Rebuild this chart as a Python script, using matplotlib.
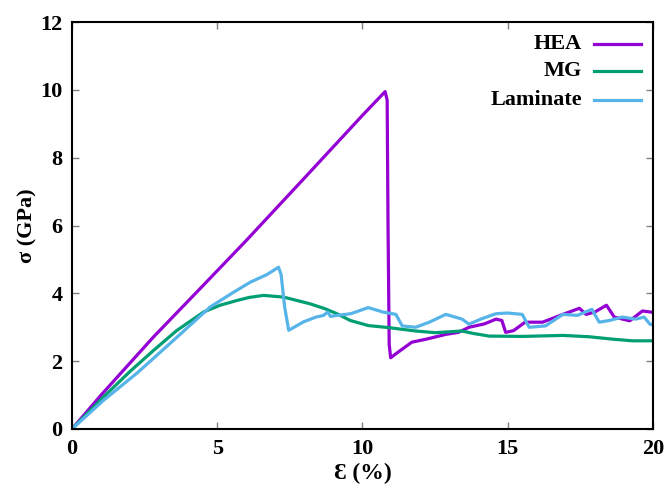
import matplotlib
matplotlib.use("Agg")
from matplotlib import pyplot as plt

# strain (%) and stress (GPa)
hea_x = [0, 1.0, 2.8, 4.5, 6.0, 8.0, 10.0, 10.78, 10.85, 10.88, 10.92, 10.97,
         11.2, 11.7, 12.2, 12.87, 13.3, 13.67, 14.2, 14.6, 14.8, 14.93, 15.2,
         15.6, 16.2, 16.9, 17.47, 17.7, 18.0, 18.4, 18.67, 19.2, 19.64, 20.0]
hea_y = [0, 1.0, 2.71, 4.22, 5.56, 7.40, 9.25, 9.95, 9.7, 6.0, 2.5, 2.1,
         2.25, 2.56, 2.65, 2.79, 2.85, 3.0, 3.1, 3.24, 3.2, 2.85, 2.9,
         3.15, 3.15, 3.38, 3.56, 3.38, 3.45, 3.65, 3.3, 3.19, 3.48, 3.44]

mg_x = [0, 1.09, 2.0, 2.81, 3.6, 4.53, 5.1, 5.68, 6.1, 6.6, 7.28, 7.7, 8.2,
        8.7, 9.12, 9.58, 10.2, 10.9, 11.83, 12.5, 13.43, 13.8, 14.36, 15.5,
        16.9, 17.8, 18.6, 19.3, 19.9, 20.0]
mg_y = [0, 0.95, 1.70, 2.32, 2.90, 3.45, 3.65, 3.79, 3.88, 3.94, 3.89, 3.80,
        3.69, 3.55, 3.40, 3.2, 3.05, 2.99, 2.89, 2.84, 2.89, 2.82, 2.74, 2.73,
        2.76, 2.72, 2.65, 2.6, 2.6, 2.6]

lam_x = [0, 1.09, 2.24, 3.5, 4.76, 5.5, 6.14, 6.7, 7.11, 7.2, 7.32, 7.46,
         7.97, 8.4, 8.66, 8.8, 8.9, 9.12, 9.6, 10.2, 10.7, 11.15, 11.37,
         11.83, 12.3, 12.87, 13.43, 13.67, 14.1, 14.6, 15.0, 15.5, 15.74,
         16.3, 16.9, 17.4, 17.9, 18.15, 18.5, 18.95, 19.4, 19.7, 19.9, 20.0]
lam_y = [0, 0.85, 1.65, 2.62, 3.6, 4.0, 4.33, 4.55, 4.77, 4.55, 3.6, 2.91,
         3.16, 3.3, 3.35, 3.45, 3.32, 3.35, 3.4, 3.58, 3.45, 3.38, 3.04,
         3.0, 3.15, 3.38, 3.24, 3.09, 3.25, 3.4, 3.42, 3.38, 3.0,
         3.04, 3.38, 3.35, 3.53, 3.15, 3.2, 3.3, 3.24, 3.3, 3.09, 3.07]

labels = ['HEA', 'MG', 'Laminate']
colors = ['#9400d3', '#009e73', '#56b4e9']
x_ticks = [0, 5, 10, 15, 20]
y_ticks = [0, 2, 4, 6, 8, 10, 12]

SERIF = ['Liberation Serif', 'DejaVu Serif']
plt.rcParams['font.family'] = SERIF
plt.rcParams['font.weight'] = 'bold'

fig = plt.figure(figsize=(6.70, 4.91), dpi=100)
ax = fig.add_axes([0.1075, 0.1263, 0.867, 0.8287])

series = [(hea_x, hea_y), (mg_x, mg_y), (lam_x, lam_y)]
for (xs, ys), lab, c in zip(series, labels, colors):
    ax.plot(xs, ys, color=c, lw=2.3, label=lab)

ax.set_xlim(0, 20)
ax.set_ylim(0, 12)
ax.set_xticks(x_ticks)
ax.set_yticks(y_ticks)
ax.tick_params(direction='in', length=5, width=1, color='#808080',
               top=True, right=True, labelsize=16, pad=7)
for lab in ax.get_xticklabels() + ax.get_yticklabels():
    lab.set_fontweight('bold')
for sp in ax.spines.values():
    sp.set_linewidth(1.5)
    sp.set_color('black')

ax.set_xlabel('\u0190 (%)', fontsize=17, fontweight='bold', labelpad=3)
ax.set_ylabel('\u03c3 (GPa)', fontsize=16, fontweight='bold', labelpad=2)

# gnuplot style key: right-aligned text, sample line on the right
key_rows = [0.946, 0.880, 0.808]
for row, lab, c in zip(key_rows, labels, colors):
    ax.text(0.878, row, lab, transform=ax.transAxes, ha='right', va='center',
            fontsize=16, fontweight='bold')
    ax.plot([0.898, 0.979], [row, row], transform=ax.transAxes, color=c,
            lw=2.3, clip_on=False)

fig.savefig('out.png', dpi=100)
